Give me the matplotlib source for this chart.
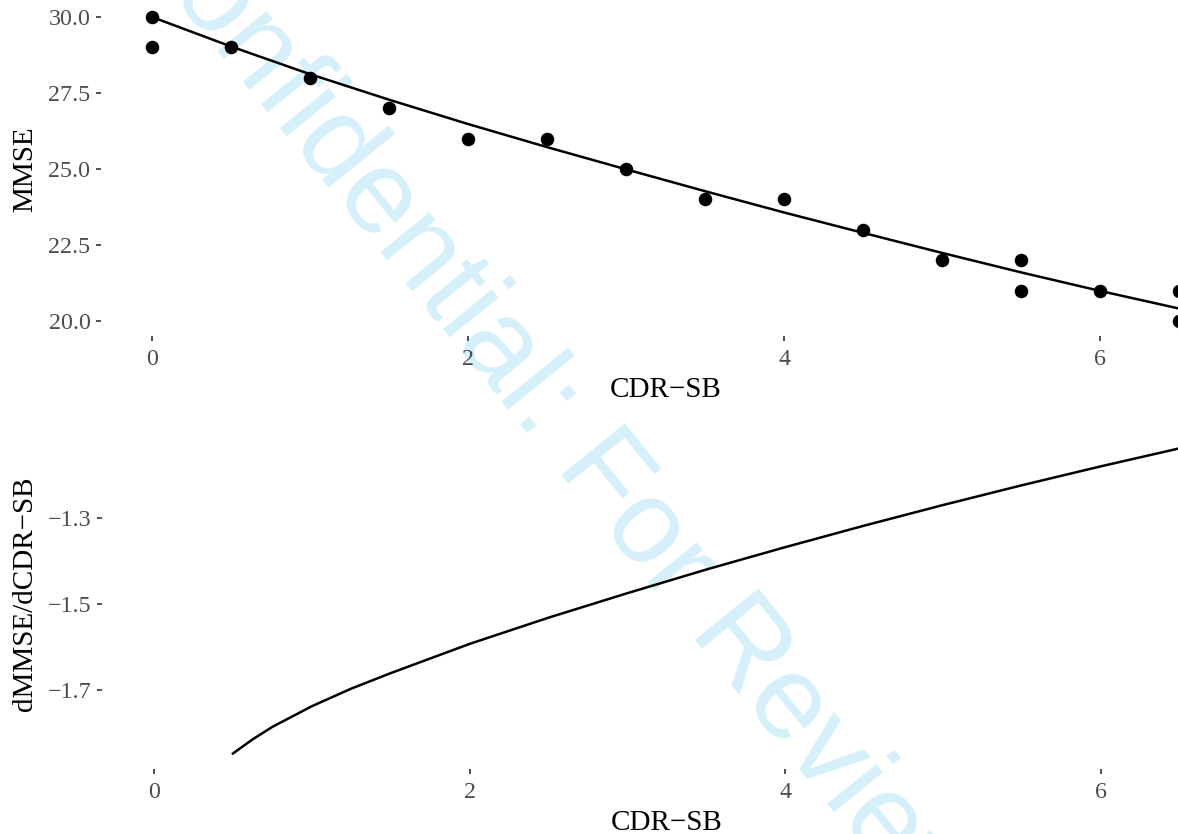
import matplotlib
matplotlib.use('Agg')
import matplotlib.pyplot as plt

plt.rcParams['font.family'] = ['Liberation Serif', 'DejaVu Serif']

# observed MMSE by CDR-SB (top panel)
cdr_obs = [0, 0, 0.5, 1, 1.5, 2, 2.5, 3, 3.5, 4, 4.5, 5, 5.5, 5.5, 6, 6.5, 6.5]
mmse_obs = [30, 29, 29, 28, 27, 26, 26, 25, 24, 24, 23, 22, 22, 21, 21, 21, 20]

# fitted curve
cdr_fit = [0, 0.5, 1, 1.5, 2, 2.5, 3, 3.5, 4, 4.5, 5, 5.5, 6, 6.5]
mmse_fit = [30.0, 29.03, 28.12, 27.28, 26.48, 25.72, 24.99, 24.27, 23.57,
            22.9, 22.24, 21.6, 20.99, 20.41]

# derivative of the fit (bottom panel)
cdr_deriv = [0.5, 0.625, 0.75, 1, 1.25, 1.5, 2, 2.5, 3, 3.5, 4, 4.5, 5, 5.5, 6, 6.5]
dmmse = [-1.848, -1.815, -1.786, -1.738, -1.697, -1.661, -1.593, -1.532,
         -1.475, -1.420, -1.368, -1.318, -1.270, -1.224, -1.180, -1.138]

W, H = 1178, 834
fig = plt.figure(figsize=(W / 100, H / 100), dpi=100)

# watermark behind the panels
fig.text(115 / W, 1 + 75 / H, 'Confidential: For Review Only',
         family='Liberation Sans', fontsize=86, color='#d5effb',
         rotation=-51, rotation_mode='anchor', ha='left', va='baseline',
         zorder=-1)

tick_col = '#4d4d4d'
fmt = matplotlib.ticker.FuncFormatter(lambda v, p: ('%.1f' % v).replace('-', '\u2212'))


def style(ax):
    ax.set_facecolor('none')
    for s in ax.spines.values():
        s.set_visible(False)
    ax.tick_params(length=3.6, width=1.2, color='#333333', labelcolor=tick_col,
                   labelsize=17.3)
    ax.tick_params(axis='y', pad=4)
    ax.tick_params(axis='x', pad=5.5)


# top panel: axes reach past the right edge (picture is cropped there)
ax1 = fig.add_axes([101 / W, 1 - 336.2 / H, 1130 / W, 334.4 / H])
style(ax1)
ax1.plot(cdr_fit, mmse_fit, color='black', lw=1.8, zorder=2)
ax1.scatter(cdr_obs, mmse_obs, s=95, color='black', zorder=3, linewidths=0)
ax1.set_xlim(-0.3228, 6.829)
ax1.set_ylim(19.5, 30.5)
ax1.set_xticks([0, 2, 4, 6])
ax1.set_yticks([20.0, 22.5, 25.0, 27.5, 30.0])
ax1.yaxis.set_major_formatter(fmt)
ax1.set_xlabel('CDR\u2212SB', fontsize=21)
ax1.set_ylabel('MMSE', fontsize=21)
ax1.xaxis.set_label_coords(0.5, -0.122)
ax1.yaxis.set_label_coords(-0.056, 0.5)

# bottom panel
ax2 = fig.add_axes([102 / W, 1 - 769 / H, 1130 / W, 350 / H])
style(ax2)
ax2.plot(cdr_deriv, dmmse, color='black', lw=1.8)
ax2.set_xlim(-0.3295, 6.83)
ax2.set_ylim(-1.884, -1.070)
ax2.set_xticks([0, 2, 4, 6])
ax2.set_yticks([-1.7, -1.5, -1.3])
ax2.yaxis.set_major_formatter(fmt)
ax2.set_xlabel('CDR\u2212SB', fontsize=21)
ax2.set_ylabel('dMMSE/dCDR\u2212SB', fontsize=21)
ax2.xaxis.set_label_coords(0.5, -0.117)
ax2.yaxis.set_label_coords(-0.057, 0.5)

fig.savefig('out.png', dpi=100)
